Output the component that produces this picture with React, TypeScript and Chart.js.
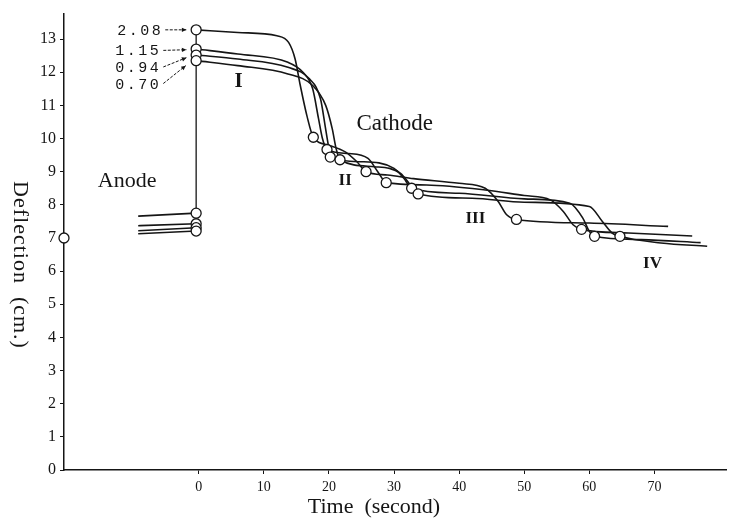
import React, { useEffect, useRef } from 'react';
import { Chart, registerables } from 'chart.js';
Chart.register(...registerables);

const seriesLabels = ['2.08', '1.15', '0.94', '0.70'];

// Cathode curves: time (s) and deflection (cm)
const timeA = [-0.4, 6, 12, 13.8, 14.8, 15.6, 16.6, 17.6, 20, 22.5, 24.3, 25.7, 29, 33, 40, 44, 46, 47.3, 48.8, 60, 72.1];
const deflA = [13.28, 13.2, 13.1, 12.9, 12.4, 11.6, 10.7, 10.04, 9.8, 9.6, 9.3, 9.0, 8.9, 8.79, 8.65, 8.5, 8.1, 7.7, 7.56, 7.45, 7.35];
const timeB = [-0.4, 6, 13.7, 16, 17.5, 18.4, 19.0, 19.7, 23, 26, 27.5, 28.8, 35, 44, 50, 54, 56, 57.5, 58.8, 66, 75.8];
const deflB = [12.7, 12.55, 12.3, 12.0, 11.5, 10.6, 10.0, 9.67, 9.55, 9.4, 9.0, 8.67, 8.6, 8.45, 8.28, 8.15, 7.8, 7.4, 7.26, 7.15, 7.06];
const timeC = [-0.4, 6, 13.7, 17, 18.7, 19.4, 19.9, 20.2, 25, 30, 31.5, 32.7, 40, 50, 57, 59, 60, 60.8, 68, 77.1];
const deflC = [12.52, 12.4, 12.15, 11.8, 11.2, 10.4, 9.8, 9.44, 9.3, 9.1, 8.8, 8.5, 8.35, 8.18, 8.05, 7.6, 7.2, 7.05, 6.95, 6.86];
const timeD = [-0.4, 6, 13.7, 17.5, 19.5, 20.5, 21.1, 21.7, 27, 31, 32.5, 33.7, 42, 50, 60, 62, 63.5, 64.7, 71, 78.1];
const deflD = [12.35, 12.2, 11.95, 11.6, 11.0, 10.3, 9.7, 9.36, 9.15, 8.95, 8.6, 8.33, 8.2, 8.08, 7.95, 7.5, 7.15, 7.05, 6.85, 6.75];

// Anode segments
const anodeTime = [-9.3, -0.4];
const anodeA = [7.66, 7.75];
const anodeB = [7.37, 7.43];
const anodeC = [7.22, 7.31];
const anodeD = [7.13, 7.21];

// Measured points (circles)
const markTimeA = [-0.4, 17.6, 25.7, 48.8, -0.4];
const markDeflA = [13.28, 10.04, 9.0, 7.56, 7.75];
const markTimeB = [-0.4, 19.7, 28.8, 58.8, -0.4];
const markDeflB = [12.7, 9.67, 8.67, 7.26, 7.43];
const markTimeC = [-0.4, 20.2, 32.7, 60.8, -0.4];
const markDeflC = [12.52, 9.44, 8.5, 7.05, 7.31];
const markTimeD = [-0.4, 21.7, 33.7, 64.7, -0.4];
const markDeflD = [12.35, 9.36, 8.33, 7.05, 7.21];

// Switching line at time of reversal
const switchTime = [-0.4, -0.4];
const switchDefl = [7.21, 13.28];

// Zero-level marker on axis
const zeroTime = [-20.7];
const zeroDefl = [7.0];

const xTicks = [0, 10, 20, 30, 40, 50, 60, 70];
const yTicks = [0, 1, 2, 3, 4, 5, 6, 7, 8, 9, 10, 11, 12, 13];

const INK = '#151515';
const SERIF = '"Liberation Serif", "DejaVu Serif", serif';

const zip = (xs: number[], ys: number[]) => xs.map((x, i) => ({ x, y: ys[i] }));

const annotate = {
  id: 'annotate',
  afterDraw(chart: any) {
    const { ctx, scales } = chart;
    const X = (v: number) => scales.x.getPixelForValue(v);
    const Y = (v: number) => scales.y.getPixelForValue(v);
    ctx.save();
    ctx.fillStyle = INK;
    ctx.strokeStyle = INK;
    ctx.textBaseline = 'middle';

    // series labels with arrows
    const labelPos = [
      { t: -5.3, y: 13.28, to: [-1.9, 13.28] },
      { t: -5.6, y: 12.66, to: [-1.9, 12.68] },
      { t: -5.6, y: 12.16, to: [-1.9, 12.44] },
      { t: -5.6, y: 11.66, to: [-2.0, 12.2] },
    ];
    ctx.font = '15px "Liberation Mono", "DejaVu Sans Mono", monospace';
    (ctx as any).letterSpacing = '2.5px';
    ctx.textAlign = 'right';
    labelPos.forEach((p, i) => {
      ctx.fillText(seriesLabels[i], X(p.t) - 1, Y(p.y) + 1);
      const x0 = X(p.t) + 1, y0 = Y(p.y);
      const x1 = X(p.to[0]), y1 = Y(p.to[1]);
      ctx.lineWidth = 1;
      ctx.setLineDash([3, 1.5]);
      ctx.beginPath();
      ctx.moveTo(x0, y0);
      ctx.lineTo(x1, y1);
      ctx.stroke();
      ctx.setLineDash([]);
      const a = Math.atan2(y1 - y0, x1 - x0);
      ctx.beginPath();
      ctx.moveTo(x1, y1);
      ctx.lineTo(x1 - 5 * Math.cos(a - 0.45), y1 - 5 * Math.sin(a - 0.45));
      ctx.lineTo(x1 - 5 * Math.cos(a + 0.45), y1 - 5 * Math.sin(a + 0.45));
      ctx.closePath();
      ctx.fill();
    });
    (ctx as any).letterSpacing = '0px';

    ctx.textAlign = 'center';
    ctx.font = '23px ' + SERIF;
    ctx.fillText('Cathode', X(30.1), Y(10.45));
    ctx.font = '22px ' + SERIF;
    ctx.fillText('Anode', X(-11), Y(8.7));
    ctx.font = 'bold 21px ' + SERIF;
    ctx.fillText('I', X(6.1), Y(11.72));
    ctx.font = 'bold 17px ' + SERIF;
    ctx.fillText('II', X(22.5), Y(8.73));
    ctx.fillText('III', X(42.5), Y(7.59));
    ctx.fillText('IV', X(69.7), Y(6.23));

    // axis titles
    ctx.font = '22px ' + SERIF;
    ctx.fillText('Time  (second)', 374, 507);
    ctx.translate(20, 265);
    ctx.rotate(Math.PI / 2);
    (ctx as any).letterSpacing = '1px';
    ctx.fillText('Deflection  (cm.)', 0, 0);
    ctx.restore();
  },
};

export default function App() {
  const ref = useRef<HTMLCanvasElement>(null);
  useEffect(() => {
    if (!ref.current) return;
    const line = (xs: number[], ys: number[]) => ({
      type: 'line' as const,
      data: zip(xs, ys),
      borderColor: INK,
      borderWidth: 1.6,
      pointRadius: 0,
      showLine: true,
      fill: false,
      cubicInterpolationMode: 'monotone' as const,
      clip: false as any,
      order: 2,
    });
    const marks = (xs: number[], ys: number[]) => ({
      type: 'scatter' as const,
      data: zip(xs, ys),
      borderColor: INK,
      backgroundColor: '#ffffff',
      borderWidth: 1.3,
      pointRadius: 5,
      showLine: false,
      clip: false as any,
      order: 1,
    });
    const chart = new Chart(ref.current, {
      type: 'scatter',
      data: {
        datasets: [
          line(timeA, deflA), line(timeB, deflB), line(timeC, deflC), line(timeD, deflD),
          line(anodeTime, anodeA), line(anodeTime, anodeB), line(anodeTime, anodeC), line(anodeTime, anodeD),
          { ...line(switchTime, switchDefl), borderWidth: 1.3, cubicInterpolationMode: 'default' as const, tension: 0 },
          marks(markTimeD, markDeflD), marks(markTimeC, markDeflC), marks(markTimeB, markDeflB), marks(markTimeA, markDeflA),
          marks(zeroTime, zeroDefl),
        ] as any,
      },
      options: {
        animation: false,
        responsive: false,
        devicePixelRatio: 1,
        layout: { padding: { top: 13, left: 0, right: 0, bottom: 0 } },
        plugins: { legend: { display: false }, tooltip: { enabled: false } },
        scales: {
          x: {
            type: 'linear',
            min: -20.7,
            max: 81.1,
            afterBuildTicks: (s: any) => { s.ticks = xTicks.map((v) => ({ value: v })); },
            afterFit: (s: any) => { s.height = 50; },
            grid: { drawOnChartArea: false, tickLength: 4, color: INK },
            border: { color: INK, width: 1.5 },
            ticks: { color: INK, font: { family: SERIF, size: 14 }, padding: 5, maxRotation: 0 },
          },
          y: {
            type: 'linear',
            min: 0,
            max: 13.77,
            afterBuildTicks: (s: any) => { s.ticks = yTicks.map((v) => ({ value: v })); },
            afterFit: (s: any) => { s.width = 64; },
            grid: { drawOnChartArea: false, tickLength: 4, color: INK },
            border: { color: INK, width: 1.5 },
            ticks: { color: INK, font: { family: SERIF, size: 16 }, padding: 4 },
          },
        },
      },
      plugins: [annotate],
    });
    return () => chart.destroy();
  }, []);
  return (
    <div style={{ position: 'fixed', left: 0, top: 0, width: 733, height: 520, background: '#fff' }}>
      <canvas ref={ref} width={733} height={520} />
    </div>
  );
}
